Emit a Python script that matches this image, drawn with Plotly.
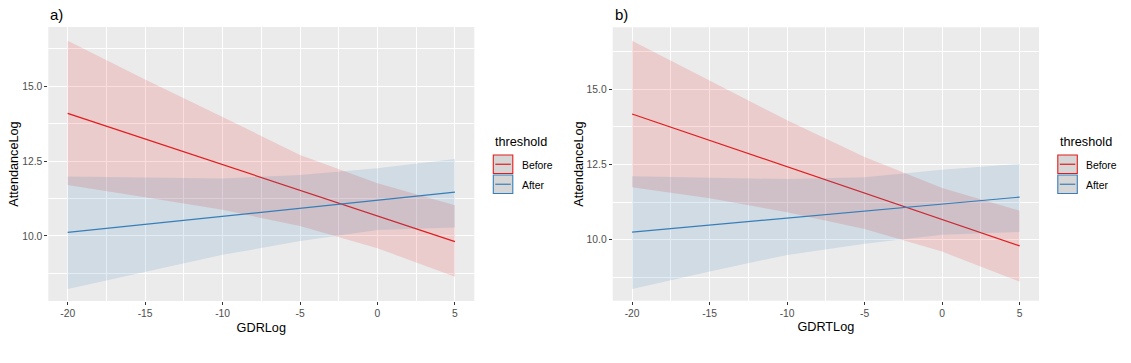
import plotly.graph_objects as go

# ---------------- data ----------------
gdr = [-20, -15, -10, -5, 0, 5]

# panel a) GDRLog
a_before_fit = [14.09, 13.23, 12.38, 11.52, 10.67, 9.81]
a_before_hi = [16.51, 15.22, 13.97, 12.70, 11.76, 11.02]
a_before_lo = [11.70, 11.29, 10.87, 10.33, 9.59, 8.64]
a_after_fit = [10.12, 10.39, 10.66, 10.93, 11.19, 11.46]
a_after_hi = [11.98, 11.96, 11.92, 12.03, 12.26, 12.57]
a_after_lo = [8.23, 8.81, 9.37, 9.83, 10.20, 10.28]

# panel b) GDRTLog
b_before_fit = [14.18, 13.30, 12.43, 11.55, 10.68, 9.80]
b_before_hi = [16.61, 15.30, 13.97, 12.75, 11.72, 10.97]
b_before_lo = [11.75, 11.38, 10.92, 10.36, 9.61, 8.61]
b_after_fit = [10.26, 10.49, 10.72, 10.96, 11.19, 11.42]
b_after_hi = [12.11, 12.07, 12.02, 12.08, 12.33, 12.52]
b_after_lo = [8.37, 8.95, 9.50, 9.87, 10.17, 10.26]

x_ticks = [-20, -15, -10, -5, 0, 5]
x_tick_labels = ["-20", "-15", "-10", "-5", "0", "5"]
y_ticks = [10.0, 12.5, 15.0]
y_tick_labels = ["10.0", "12.5", "15.0"]

groups = ["Before", "After"]
legend_title = "threshold"

# ---------------- styling ----------------
W, H = 1131, 363
FONT = "Liberation Sans, Arial, sans-serif"
RED = "#E41A1C"
BLUE = "#377EB8"
RED_FILL = "rgba(228,26,28,0.15)"
BLUE_FILL = "rgba(55,126,184,0.15)"


def px(xp):
    return xp / W


def py(yp):
    return 1 - yp / H


panels = [
    dict(tag="a)", xtitle="GDRLog", left=48.3, right=474.3, top=27.0, bottom=301.0,
         yrange=[7.83, 16.97], legx=493.3,
         before=(a_before_fit, a_before_hi, a_before_lo),
         after=(a_after_fit, a_after_hi, a_after_lo)),
    dict(tag="b)", xtitle="GDRTLog", left=612.7, right=1039.0, top=27.3, bottom=300.7,
         yrange=[7.98, 17.06], legx=1057.8,
         before=(b_before_fit, b_before_hi, b_before_lo),
         after=(b_after_fit, b_after_hi, b_after_lo)),
]

fig = go.Figure()
shapes = []
annotations = []

for i, p in enumerate(panels):
    sfx = "" if i == 0 else str(i + 1)
    xa, ya = "x" + sfx, "y" + sfx
    for name, (fit, hi, lo), col, fill in [
        ("Before", p["before"], RED, RED_FILL),
        ("After", p["after"], BLUE, BLUE_FILL),
    ]:
        fig.add_trace(go.Scatter(
            x=gdr + gdr[::-1], y=hi + lo[::-1], fill="toself", fillcolor=fill,
            line=dict(width=0), mode="lines", hoverinfo="skip", showlegend=False,
            xaxis=xa, yaxis=ya, name=name))
        fig.add_trace(go.Scatter(
            x=gdr, y=fit, mode="lines", line=dict(color=col, width=1.2),
            showlegend=False, xaxis=xa, yaxis=ya, name=name))

    axis_common = dict(
        showgrid=True, gridcolor="white", gridwidth=1.1, zeroline=False,
        ticks="outside", ticklen=3, tickwidth=1.1, tickcolor="#333333",
        tickfont=dict(family=FONT, size=10.3, color="#4D4D4D"),
        showline=False, automargin=False,
    )
    fig.layout["xaxis" + sfx] = dict(
        axis_common,
        domain=[px(p["left"]), px(p["right"])], range=[-21.25, 6.25],
        anchor=ya, tickmode="array", tickvals=x_ticks, ticktext=x_tick_labels,
        minor=dict(dtick=2.5, tick0=0, showgrid=True, gridcolor="white", gridwidth=0.55, ticks=""),
        title=dict(text=p["xtitle"], font=dict(family=FONT, size=12.7, color="black"), standoff=4),
    )
    fig.layout["yaxis" + sfx] = dict(
        axis_common,
        domain=[py(p["bottom"]), py(p["top"])], range=p["yrange"],
        anchor=xa, tickmode="array", tickvals=y_ticks, ticktext=y_tick_labels,
        minor=dict(dtick=1.25, tick0=0, showgrid=True, gridcolor="white", gridwidth=0.55, ticks=""),
        title=dict(text="AttendanceLog", font=dict(family=FONT, size=12.7, color="black"), standoff=0),
    )

    # panel tag
    annotations.append(dict(
        text=p["tag"], x=px(p["left"]), y=py(15), xref="paper", yref="paper",
        xanchor="left", yanchor="middle", showarrow=False,
        font=dict(family=FONT, size=15, color="black")))

    # legend (drawn like ggplot's key)
    lx = p["legx"]
    annotations.append(dict(
        text=legend_title, x=px(lx), y=py(142), xref="paper", yref="paper",
        xanchor="left", yanchor="middle", showarrow=False,
        font=dict(family=FONT, size=12.7, color="black")))
    for k, (g, col) in enumerate(zip(groups, [RED, BLUE])):
        top = 155 + k * 20
        shapes.append(dict(type="rect", xref="paper", yref="paper",
                           x0=px(lx), x1=px(lx + 19.5), y0=py(top), y1=py(top + 18.5),
                           fillcolor="#D6D6D6", line=dict(color=col, width=1.1)))
        shapes.append(dict(type="line", xref="paper", yref="paper",
                           x0=px(lx + 2), x1=px(lx + 17.5), y0=py(top + 9.25), y1=py(top + 9.25),
                           line=dict(color=col, width=1.2)))
        annotations.append(dict(
            text=g, x=px(lx + 26.5), y=py(top + 10), xref="paper", yref="paper",
            xanchor="left", yanchor="middle", showarrow=False,
            font=dict(family=FONT, size=10.4, color="black")))

fig.update_layout(
    width=W, height=H, margin=dict(l=0, r=0, t=0, b=0),
    paper_bgcolor="white", plot_bgcolor="#EBEBEB",
    showlegend=False, shapes=shapes, annotations=annotations,
    font=dict(family=FONT),
)

fig.write_html(
    "out.html",
    config={"displayModeBar": False},
    post_script="document.body.style.margin='0';document.body.style.overflow='hidden';",
)
